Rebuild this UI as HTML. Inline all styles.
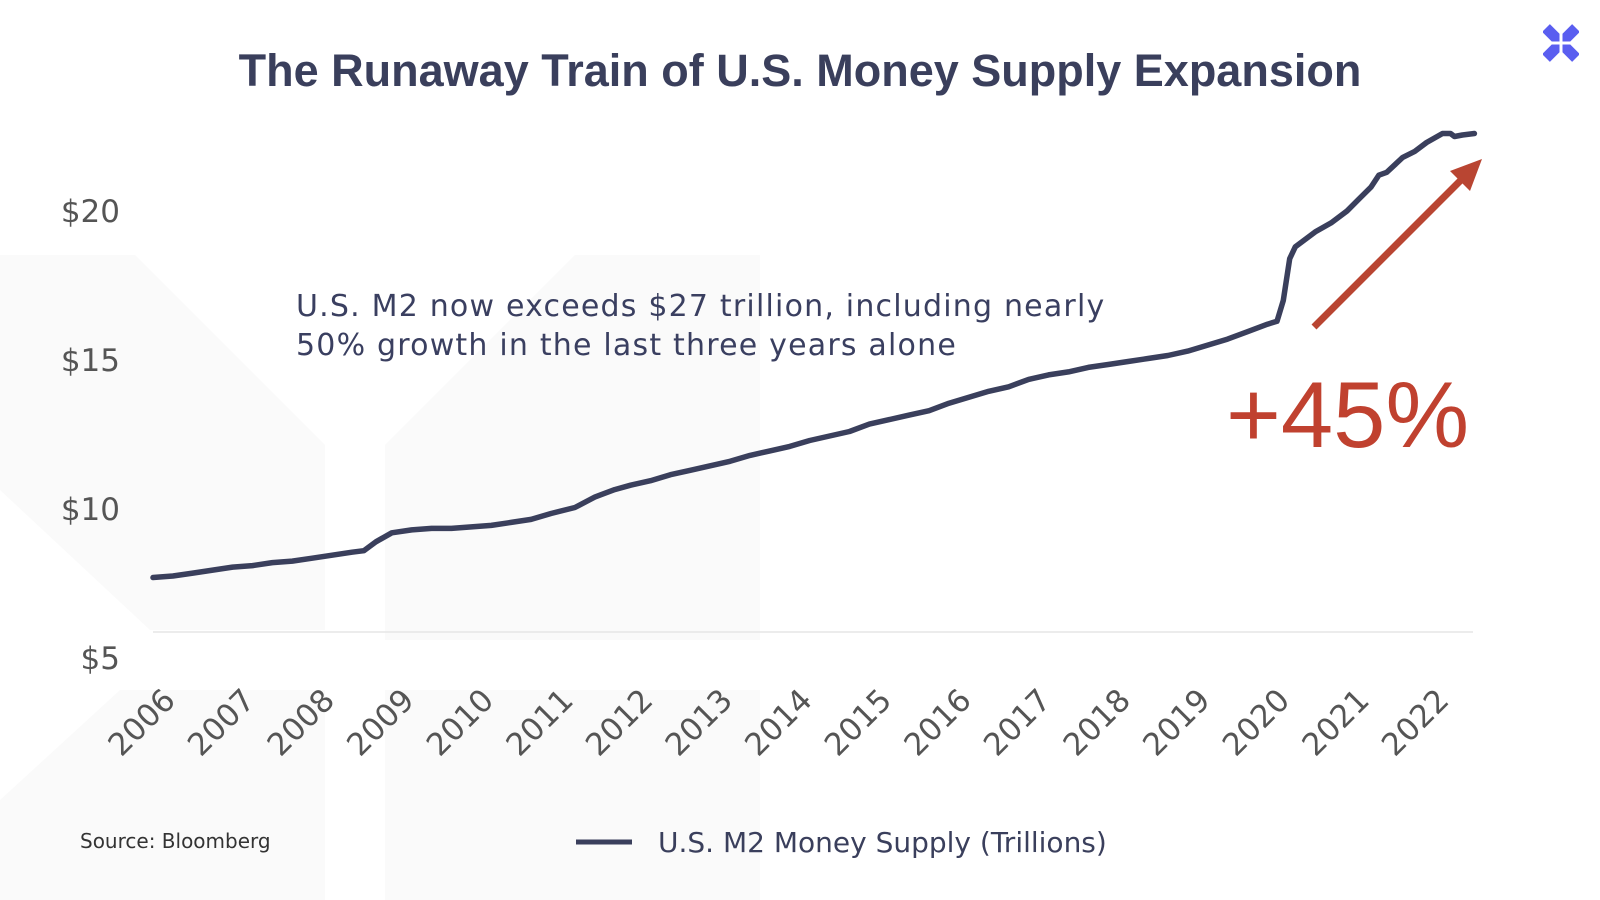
<!DOCTYPE html>
<html><head><meta charset="utf-8"><style>
html,body{margin:0;padding:0;background:#fff;}
svg{display:block;}
text{font-family:"DejaVu Sans","Liberation Sans",sans-serif;}
</style></head><body>
<svg id="chart" width="1600" height="900" viewBox="0 0 1600 900" xmlns="http://www.w3.org/2000/svg">
<g fill="#fafafa">
<polygon points="0,255 135,255 325,445 325,630 150,630 0,490"/>
<polygon points="385,445 575,255 760,255 760,640 570,640 385,640"/>
<polygon points="385,690 760,690 760,900 385,900"/>
<polygon points="0,800 120,690 325,690 325,900 0,900"/>
</g>
<text x="800" y="86" text-anchor="middle" font-size="45" font-weight="bold" fill="#3a3f5c" style="font-family:'Liberation Sans',sans-serif">The Runaway Train of U.S. Money Supply Expansion</text>
<g>
<line x1="1546" y1="28" x2="1576" y2="58" stroke="#5a5ef0" stroke-width="11"/>
<line x1="1576" y1="28" x2="1546" y2="58" stroke="#5a5ef0" stroke-width="11"/>
<line x1="1561" y1="20" x2="1561" y2="66" stroke="#fff" stroke-width="3"/>
<line x1="1538" y1="43" x2="1584" y2="43" stroke="#fff" stroke-width="3"/>
<rect x="1530" y="10" width="13" height="70" fill="#fff"/>
<rect x="1579" y="10" width="13" height="70" fill="#fff"/>
</g>
<line x1="153" y1="632" x2="1473" y2="632" stroke="#e6e6e6" stroke-width="1.5"/>
<g id="yticks"></g>
<g id="xticks"></g>
<path id="m2line" fill="none" stroke="#3a3f5c" stroke-width="5.5" stroke-linejoin="round" stroke-linecap="round"/>
<text font-size="30" letter-spacing="1.2" fill="#3a3f60"><tspan x="296" y="316">U.S. M2 now exceeds $27 trillion, including nearly</tspan><tspan x="296" y="355">50% growth in the last three years alone</tspan></text>
<g>
<line x1="1314" y1="327" x2="1465" y2="176" stroke="#b94532" stroke-width="7"/>
<polygon points="1482,159 1450,171 1470,191" fill="#b94532"/>
</g>
<text x="1226" y="447" font-size="94" fill="#c0412f" style="font-family:'Liberation Sans',sans-serif">+45%</text>
<text x="80" y="848" font-size="20" fill="#333">Source: Bloomberg</text>
<g>
<line x1="576" y1="842" x2="632" y2="842" stroke="#3a3f5c" stroke-width="5"/>
<text x="658" y="852" font-size="28" fill="#3a3f5c">U.S. M2 Money Supply (Trillions)</text>
</g>
</svg>
<script>
const yTicks=[5,10,15,20];
const yTickLabels=["$5","$10","$15","$20"];
const xYears=[2006,2007,2008,2009,2010,2011,2012,2013,2014,2015,2016,2017,2018,2019,2020,2021,2022];
const times=[2006.0,2006.25,2006.5,2006.75,2007.0,2007.25,2007.5,2007.75,2008.0,2008.25,2008.5,2008.65,2008.8,2009.0,2009.25,2009.5,2009.75,2010.0,2010.25,2010.5,2010.75,2011.0,2011.3,2011.55,2011.65,2011.8,2012.0,2012.25,2012.5,2012.75,2013.0,2013.25,2013.5,2013.75,2014.0,2014.25,2014.5,2014.75,2015.0,2015.25,2015.5,2015.75,2016.0,2016.25,2016.5,2016.75,2017.0,2017.25,2017.5,2017.75,2018.0,2018.25,2018.5,2018.75,2019.0,2019.25,2019.5,2019.75,2020.0,2020.12,2020.2,2020.28,2020.35,2020.6,2020.8,2021.0,2021.15,2021.3,2021.4,2021.5,2021.7,2021.85,2022.0,2022.2,2022.3,2022.35,2022.45,2022.6];
const values=[7.7,7.75,7.85,7.95,8.05,8.1,8.2,8.25,8.35,8.45,8.55,8.6,8.9,9.2,9.3,9.35,9.35,9.4,9.45,9.55,9.65,9.85,10.05,10.4,10.5,10.65,10.8,10.95,11.15,11.3,11.45,11.6,11.8,11.95,12.1,12.3,12.45,12.6,12.85,13.0,13.15,13.3,13.55,13.75,13.95,14.1,14.35,14.5,14.6,14.75,14.85,14.95,15.05,15.15,15.3,15.5,15.7,15.95,16.2,16.3,17.0,18.4,18.8,19.3,19.6,20.0,20.4,20.8,21.2,21.3,21.8,22.0,22.3,22.6,22.6,22.5,22.55,22.6];
const NS="http://www.w3.org/2000/svg";
const xS=t=>153+(t-2006)*79.6;
const yS=v=>658-(v-5)*29.8;
const yg=document.getElementById('yticks');
yTicks.forEach((v,i)=>{
 const t=document.createElementNS(NS,'text');
 
 
 t.setAttribute('x',120);t.setAttribute('y',yS(v)+11);
 t.setAttribute('text-anchor','end');t.setAttribute('font-size','31');t.setAttribute('fill','#555');
 t.textContent=yTickLabels[i];yg.appendChild(t);
});
const xg=document.getElementById('xticks');
xYears.forEach(y=>{
 const t=document.createElementNS(NS,'text');
 
 
 const ax=xS(y)+24, ay=702;
 t.setAttribute('x',ax);t.setAttribute('y',ay);
 t.setAttribute('text-anchor','end');t.setAttribute('font-size','31');t.setAttribute('fill','#555');
 t.setAttribute('transform','rotate(-45 '+ax+' '+ay+')');
 t.textContent=y;xg.appendChild(t);
});
document.getElementById('m2line').setAttribute('d',times.map((t,i)=>(i?'L':'M')+xS(t).toFixed(1)+','+yS(values[i]).toFixed(1)).join(' '));
</script>
</body></html>
